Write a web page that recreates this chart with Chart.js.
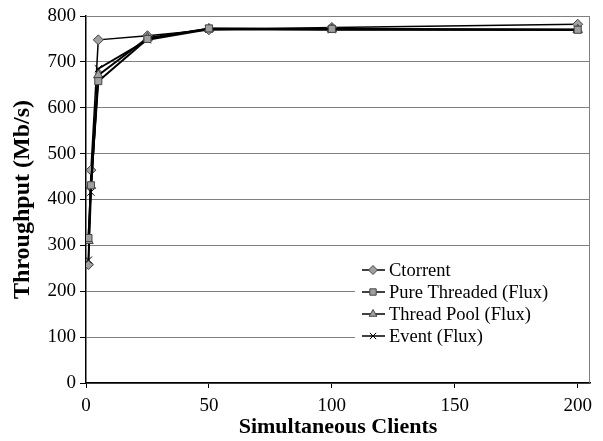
<!DOCTYPE html>
<html>
<head>
<meta charset="utf-8">
<script src="https://cdn.jsdelivr.net/npm/chart.js@4/dist/chart.umd.min.js"></script>
<style>
  html, body { margin: 0; padding: 0; background: #fff; }
  #wrap { width: 603px; height: 441px; }
</style>
</head>
<body>
<div id="wrap"><canvas id="graph"></canvas></div>
<script>
const clients = [1, 2, 5, 25, 50, 100, 200];
const ctorrent = [258, 464, 748, 757, 770, 775, 782];
const pureThreaded = [316, 431, 658, 750, 773, 772, 770];
const threadPool = [310, 430, 671, 752, 772, 771, 770];
const eventFlux = [268, 416, 685, 748, 771, 770, 770];
const seriesNames = ['Ctorrent', 'Pure Threaded (Flux)', 'Thread Pool (Flux)', 'Event (Flux)'];
const xTicks = [0, 50, 100, 150, 200];

const serif = "'Liberation Serif', 'Times New Roman', serif";

function pts(vals) {
  return clients.map((c, i) => ({ x: c, y: vals[i] }));
}

var styles = [
  { pointStyle: 'rectRot', radius: 5, width: 1.5 },
  { pointStyle: 'rect', radius: 5, width: 2 },
  { pointStyle: 'triangle', radius: 5.5, width: 2 },
  { pointStyle: 'crossRot', radius: 5, width: 2 }
];

var sets = [ctorrent, pureThreaded, threadPool, eventFlux].map((vals, k) => ({
  label: seriesNames[k],
  data: pts(vals),
  borderColor: '#000',
  borderWidth: styles[k].width,
  pointStyle: styles[k].pointStyle,
  pointRadius: styles[k].radius,
  pointBackgroundColor: '#a0a0a0',
  pointBorderColor: k == 3 ? '#000' : '#444',
  pointBorderWidth: 1,
  tension: 0
}));
// Ctorrent on top, like the original
sets = [sets[1], sets[2], sets[3], sets[0]];

// frame + legend inside the plot
const decor = {
  id: 'decor',
  beforeDatasetsDraw(chart) {
    const c = chart.ctx, a = chart.chartArea;
    c.save();
    c.strokeStyle = '#808080';
    c.lineWidth = 1;
    c.beginPath();
    c.moveTo(a.left, a.top + 0.5);
    c.lineTo(a.right - 0.5, a.top + 0.5);
    c.lineTo(a.right - 0.5, a.bottom);
    c.stroke();
    c.restore();
  },
  afterDatasetsDraw(chart) {
    const c = chart.ctx, a = chart.chartArea;
    const x0 = 355, y0 = 259, rowH = 22;
    c.save();
    c.fillStyle = '#fff';
    c.fillRect(x0, y0 - 2, a.right - 1 - x0, rowH * 4 + 2);
    c.font = '18.5px ' + serif;
    c.textBaseline = 'middle';
    seriesNames.forEach((name, k) => {
      const y = y0 + rowH * k + 11;
      c.strokeStyle = '#000';
      c.lineWidth = 1.5;
      c.beginPath();
      c.moveTo(x0 + 7, y);
      c.lineTo(x0 + 30, y);
      c.stroke();
      c.fillStyle = '#a0a0a0';
      c.strokeStyle = k == 3 ? '#000' : '#444';
      c.lineWidth = 1;
      Chart.helpers.drawPoint(c, { pointStyle: styles[k].pointStyle, radius: 4.5, rotation: 0, borderWidth: 1 }, x0 + 18, y);
      c.fillStyle = '#000';
      c.fillText(name, x0 + 34, y + 1);
    });
    c.restore();
  }
};

new Chart(document.getElementById('graph'), {
  type: 'line',
  data: { datasets: sets },
  options: {
    responsive: true,
    maintainAspectRatio: false,
    animation: false,
    layout: { padding: { top: 16, right: 13, left: 8, bottom: 0 } },
    plugins: {
      legend: { display: false },
      tooltip: { enabled: false }
    },
    scales: {
      x: {
        type: 'linear',
        min: 0,
        max: 205,
        afterBuildTicks: (s) => { s.ticks = xTicks.map(v => ({ value: v })); },
        afterFit: (s) => { s.height = 58; },
        border: { color: '#000', width: 1.5 },
        grid: { drawOnChartArea: false, drawTicks: true, tickLength: 5, tickColor: '#000' },
        ticks: { color: '#000', font: { family: serif, size: 19 }, padding: 7, maxRotation: 0 },
        title: { display: true, text: 'Simultaneous Clients', color: '#000', font: { family: serif, size: 22, weight: 'bold' }, padding: { top: -9, bottom: 0 } }
      },
      y: {
        min: 0,
        max: 800,
        afterFit: (s) => { s.width = 78; },
        border: { color: '#000', width: 1.5 },
        grid: { color: '#808080', lineWidth: 1, tickLength: 6, tickColor: '#000' },
        ticks: { stepSize: 100, color: '#000', font: { family: serif, size: 19 }, padding: 4 },
        title: { display: true, text: 'Throughput (Mb/s)', color: '#000', font: { family: serif, size: 24, weight: 'bold' }, padding: { top: 0, bottom: 0 } }
      }
    }
  },
  plugins: [decor]
});
</script>
</body>
</html>
